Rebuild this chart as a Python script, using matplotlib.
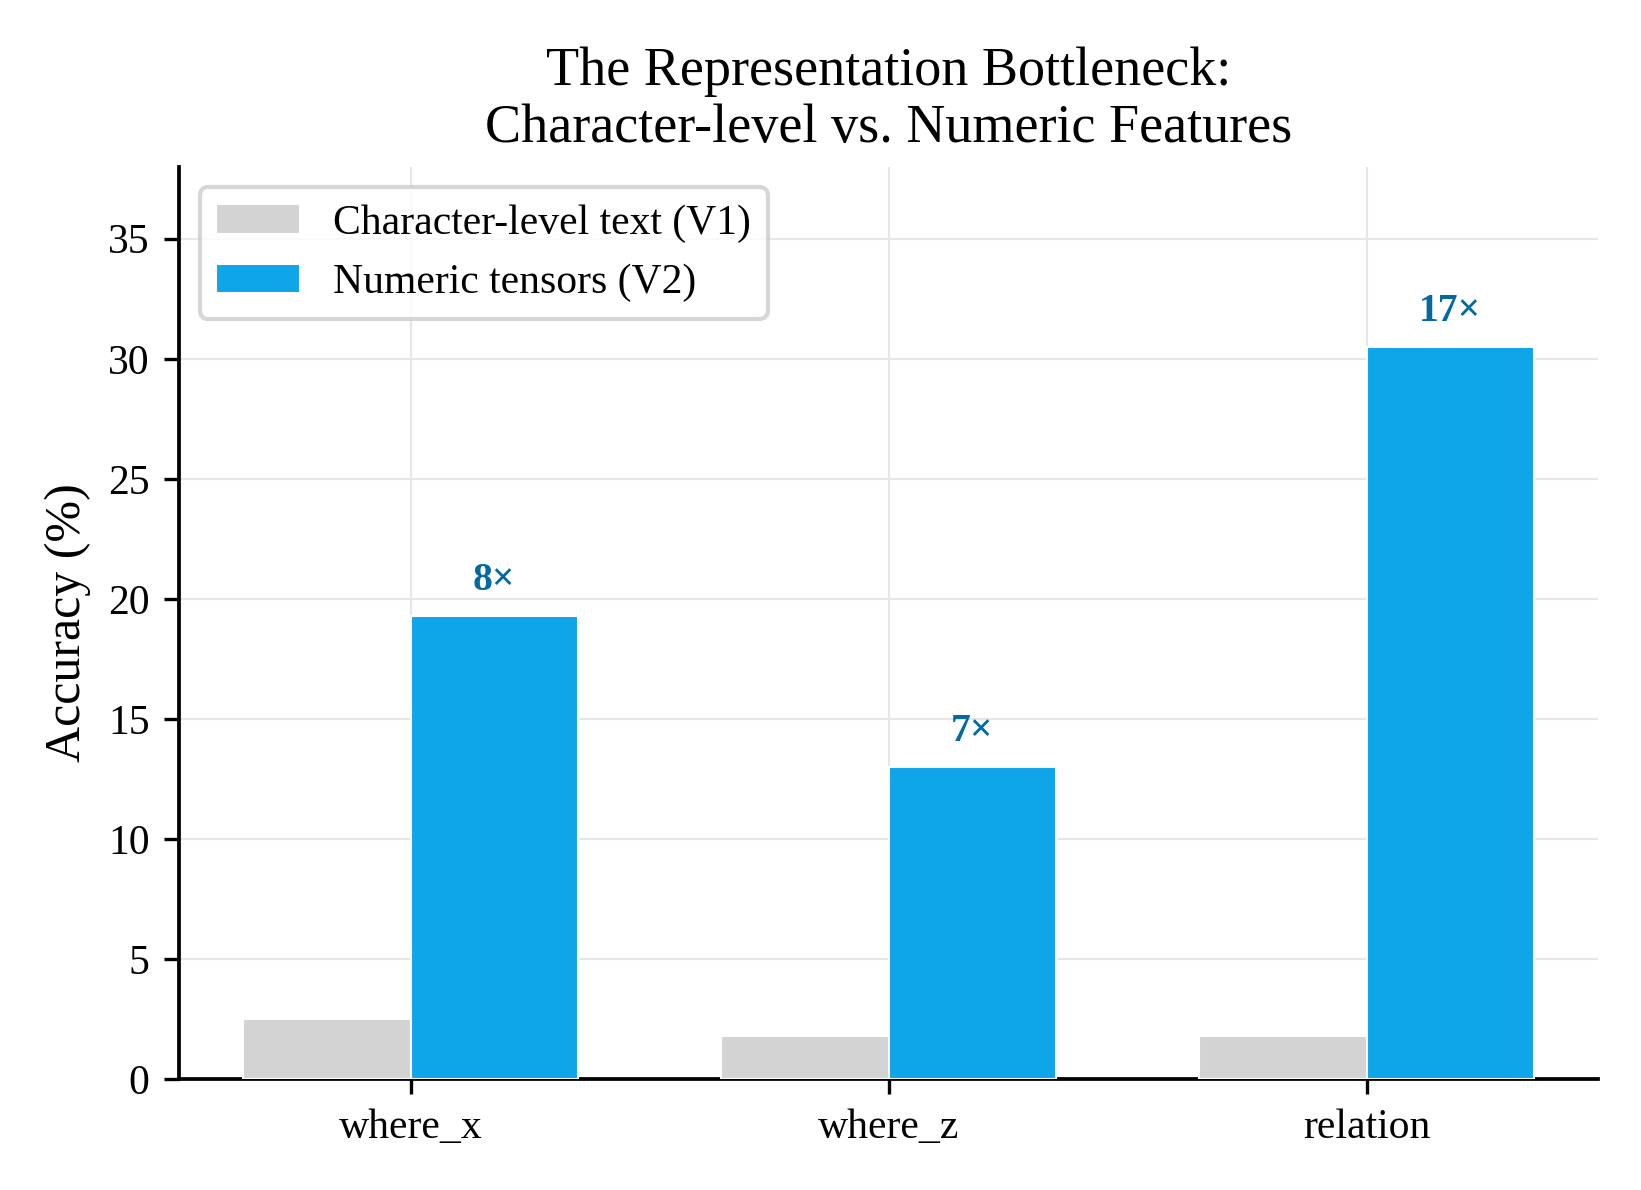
import matplotlib
matplotlib.use("Agg")
import matplotlib.pyplot as plt
import numpy as np

categories = ["where_x", "where_z", "relation"]
v1_values = [2.5, 1.8, 1.8]
v2_values = [19.3, 13.0, 30.5]
ratio_labels = ["8×", "7×", "17×"]
series_names = ["Character-level text (V1)", "Numeric tensors (V2)"]

plt.rcParams['font.family'] = ['Liberation Serif', 'DejaVu Serif']

fig = plt.figure(figsize=(1641/300, 1190/300), dpi=300)
ax = fig.add_axes([0.109, 0.093, 0.865, 0.767])

x = np.arange(len(categories))
w = 0.35
ax.bar(x - w/2, v1_values, w, color="#d3d3d3", edgecolor="white", linewidth=0.5, label=series_names[0], zorder=3)
ax.bar(x + w/2, v2_values, w, color="#0ea5e9", edgecolor="white", linewidth=0.5, label=series_names[1], zorder=3)

for xi, v, lab in zip(x, v2_values, ratio_labels):
    ax.text(xi + w/2, v + 0.7, lab, ha="center", va="bottom", fontsize=9.5,
            fontweight="bold", color="#0369a1", zorder=4)

ax.set_xticks(x)
ax.set_xticklabels(categories, fontsize=10)
ax.set_ylim(0, 38)
ax.set_yticks(np.arange(0, 36, 5))
ax.tick_params(axis='y', labelsize=10)
ax.set_ylabel("Accuracy (%)", fontsize=12)
ax.set_title("The Representation Bottleneck:\nCharacter-level vs. Numeric Features", fontsize=13, linespacing=1.15)

ax.grid(True, color="#e6e6e6", linewidth=0.5, zorder=0)
ax.set_axisbelow(True)
for s in ["top", "right"]:
    ax.spines[s].set_visible(False)
for s in ["left", "bottom"]:
    ax.spines[s].set_linewidth(0.9)

ax.legend(loc="upper left", fontsize=10, frameon=True, edgecolor="#cccccc")

fig.savefig("out.png", dpi=300)
